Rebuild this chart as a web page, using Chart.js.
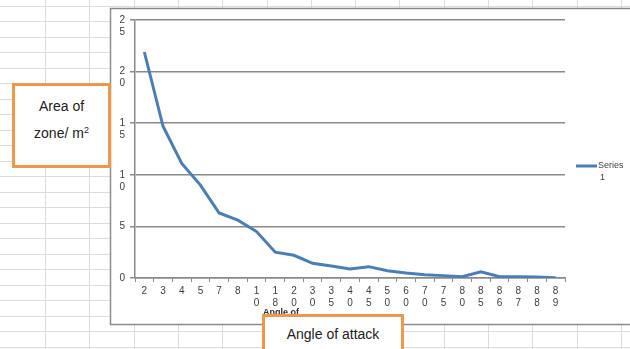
<!DOCTYPE html>
<html>
<head>
<meta charset="utf-8">
<script src="https://cdn.jsdelivr.net/npm/chart.js@4/dist/chart.umd.min.js"></script>
<style>
  html, body { margin: 0; padding: 0; background: #fff; }
  #wrap { position: relative; width: 630px; height: 349px; overflow: hidden; }
  #myChart { position: absolute; left: 0; top: 0; }
  .note {
    position: absolute;
    box-sizing: border-box;
    background: #fff;
    border: 3px solid #f0974a;
    font-family: "Liberation Sans", Arial, sans-serif;
    font-size: 14px;
    color: #222;
    text-align: center;
  }
  #yNote { left: 12px; top: 83px; width: 99px; height: 85px; padding-top: 8px; line-height: 24px; }
  #xNote { left: 262px; top: 314px; width: 142px; height: 50px; padding-top: 9px; }
  sup { font-size: 9px; vertical-align: 5px; }
</style>
</head>
<body>
<div id="wrap">
  <canvas id="myChart" width="630" height="349"></canvas>
  <div class="note" id="yNote">Area of<br>zone/ m<sup>2</sup></div>
  <div class="note" id="xNote">Angle of attack</div>
</div>
<script>
var angles = ["2", "3", "4", "5", "7", "8", "10", "18", "20", "30", "35", "40",
              "45", "50", "60", "70", "75", "80", "85", "86", "87", "88", "89"];
var area = [21.9, 14.7, 11.1, 9.0, 6.3, 5.6, 4.5, 2.5, 2.2, 1.42, 1.16, 0.87,
            1.1, 0.71, 0.48, 0.32, 0.23, 0.13, 0.61, 0.13, 0.13, 0.1, 0.03];
var yTicks = [0, 5, 10, 15, 20, 25];
var seriesName = "Series 1";
var xTitle = "Angle of";

var grey = "#8a8a8a";
var tickFont = { family: "'Liberation Sans', Arial, sans-serif", size: 10 };

// spreadsheet cells, chart frame, legend
var sheet = {
    id: "sheet",
    beforeDraw: function (chart) {
        var ctx = chart.ctx;
        ctx.save();
        ctx.fillStyle = "#fff";
        ctx.fillRect(0, 0, 630, 349);
        ctx.strokeStyle = "#dcdcdc";
        ctx.lineWidth = 1;
        for (var y = 5.5; y < 349; y += 15.5) {
            ctx.beginPath(); ctx.moveTo(0, Math.round(y) + 0.5); ctx.lineTo(630, Math.round(y) + 0.5); ctx.stroke();
        }
        for (var x = 45; x < 630; x += 44.3) {
            ctx.beginPath(); ctx.moveTo(Math.round(x) + 0.5, 0); ctx.lineTo(Math.round(x) + 0.5, 349); ctx.stroke();
        }
        ctx.fillStyle = "#fff";
        ctx.fillRect(110, 8, 530, 317);
        ctx.strokeStyle = "#8c8c8c";
        ctx.lineWidth = 1.5;
        ctx.strokeRect(110.5, 8.5, 530, 316);
        ctx.restore();
    },
    afterDraw: function (chart) {
        var ctx = chart.ctx;
        var ds = chart.data.datasets[0];
        ctx.save();
        ctx.strokeStyle = ds.borderColor;
        ctx.lineWidth = 3;
        ctx.beginPath(); ctx.moveTo(576, 166); ctx.lineTo(597, 166); ctx.stroke();
        ctx.fillStyle = "#404040";
        ctx.font = "9px 'Liberation Sans', Arial, sans-serif";
        ctx.textBaseline = "middle";
        var parts = ds.label.split(" ");
        ctx.fillText(parts[0], 598, 166);
        ctx.fillText(parts[1], 600, 178);
        ctx.font = "bold 9px 'Liberation Sans', Arial, sans-serif";
        ctx.fillStyle = "#333";
        ctx.fillText(xTitle, 263, 313);
        ctx.restore();
    }
};

new Chart("myChart", {
    type: "line",
    data: {
        labels: angles,
        datasets: [
            {
                label: seriesName,
                data: area,
                borderColor: "#4a7ebb",
                borderWidth: 3,
                pointRadius: 0,
                tension: 0
            }
        ]
    },
    options: {
        responsive: false,
        animation: false,
        layout: { padding: { left: 112, right: 65, top: 20, bottom: 39 } },
        plugins: {
            legend: { display: false },
            tooltip: { enabled: false }
        },
        scales: {
            x: {
                offset: true,
                afterFit: function (s) { s.height = 32; },
                grid: { offset: true, drawOnChartArea: false, drawTicks: true, tickLength: 4, color: grey },
                border: { color: grey, width: 1.5 },
                ticks: {
                    autoSkip: false,
                    maxRotation: 0,
                    padding: 3,
                    color: "#404040",
                    font: tickFont,
                    callback: function (v) { return angles[v].split(""); }
                }
            },
            y: {
                min: 0,
                max: 25,
                afterFit: function (s) { s.width = 23; },
                afterBuildTicks: function (s) { s.ticks = yTicks.map(function (v) { return { value: v }; }); },
                grid: { color: grey, lineWidth: 1.5, tickLength: 5 },
                border: { color: grey, width: 1.5 },
                ticks: {
                    padding: 5,
                    labelOffset: 6,
                    color: "#404040",
                    font: tickFont,
                    callback: function (v) {
                        var c = String(v).split("");
                        return c.length > 1 ? c : [c[0], ""];
                    }
                }
            }
        }
    },
    plugins: [sheet]
});
</script>
</body>
</html>
